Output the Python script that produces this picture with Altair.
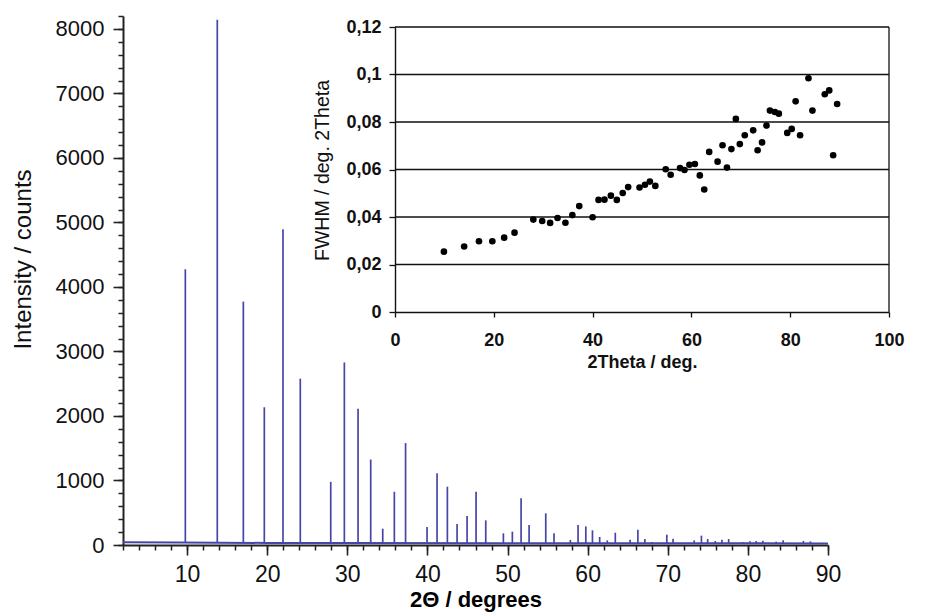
import altair as alt
import pandas as pd

# ---------------- data ----------------
# main diffraction pattern: peak positions (2Theta, deg) and peak intensities (counts)
peak_pos = [9.78, 13.77, 17.02, 19.64, 21.97, 24.13, 27.93, 29.63, 31.34, 32.92,
            34.42, 35.87, 37.27, 39.95, 41.2, 42.49, 43.7, 44.95, 46.07, 47.28,
            49.48, 50.6, 51.69, 52.69, 54.77, 55.8, 57.84, 58.8, 59.77, 60.6,
            61.5, 62.45, 63.45, 65.3, 66.27, 67.14, 68.05, 68.9, 69.88, 70.66,
            73.3, 74.2, 74.98, 75.93, 76.76, 77.6, 79.34, 80.25, 81.04, 81.87,
            83.53, 84.4, 86.93, 87.8, 88.8, 89.5]
peak_int = [4274, 8140, 3773, 2135, 4894, 2579, 979, 2830, 2113, 1325,
            253, 825, 1580, 279, 1111, 904, 326, 450, 827, 382,
            181, 207, 724, 310, 491, 181, 78, 310, 289, 228,
            124, 72, 191, 83, 238, 93, 47, 36, 160, 98,
            72, 145, 93, 62, 83, 93, 47, 57, 62, 67,
            52, 72, 62, 57, 31, 31]
# background level of the pattern
bg_pos = [2, 9, 14, 20, 30, 50, 90]
bg_int = [42, 40, 36, 32, 30, 27, 25]

# inset: FWHM vs 2Theta
fwhm_pos = [9.9, 14.0, 17.0, 19.7, 22.1, 24.2, 28.0, 29.8, 31.4, 32.9,
            34.5, 35.9, 37.3, 40.0, 41.2, 42.4, 43.7, 44.9, 46.1, 47.2,
            49.5, 50.6, 51.6, 52.7, 54.8, 55.8, 57.7, 58.6, 59.6, 60.7,
            61.7, 62.6, 63.6, 65.3, 66.3, 67.2, 68.1, 69.0, 69.8, 70.8,
            72.5, 73.4, 74.3, 75.2, 75.9, 76.9, 77.7, 79.4, 80.3, 81.1,
            82.0, 83.7, 84.5, 87.0, 87.9, 88.7, 89.5]
fwhm_val = [0.0254, 0.0276, 0.0298, 0.0298, 0.0313, 0.0334, 0.0389, 0.0383, 0.0375, 0.0396,
            0.0376, 0.0408, 0.0446, 0.0399, 0.0472, 0.0473, 0.0490, 0.0472, 0.0501, 0.0526,
            0.0524, 0.0536, 0.0549, 0.0531, 0.0601, 0.0578, 0.0606, 0.0598, 0.0620, 0.0623,
            0.0575, 0.0516, 0.0674, 0.0633, 0.0702, 0.0608, 0.0686, 0.0813, 0.0707, 0.0744,
            0.0765, 0.0681, 0.0714, 0.0785, 0.0848, 0.0842, 0.0835, 0.0754, 0.0771, 0.0887,
            0.0744, 0.0984, 0.0848, 0.0917, 0.0933, 0.0660, 0.0876]

main_x_major = [10, 20, 30, 40, 50, 60, 70, 80, 90]
main_x_minor = list(range(2, 91, 2))
main_y_major = [0, 1000, 2000, 3000, 4000, 5000, 6000, 7000, 8000]
main_y_minor = list(range(0, 8201, 200))
inset_x_ticks = [0, 20, 40, 60, 80, 100]
inset_y_ticks = [0, 0.02, 0.04, 0.06, 0.08, 0.1, 0.12]

# ---------------- tables ----------------
peaks = pd.DataFrame({"pos": peak_pos, "int": peak_int, "base": [30] * len(peak_pos)})
bg = pd.DataFrame({"pos": bg_pos, "int": bg_int})
fwhm = pd.DataFrame({"pos": fwhm_pos, "fwhm": fwhm_val})
grid = pd.DataFrame({"fwhm": inset_y_ticks[1:], "pos": [0] * 6, "pos2": [100] * 6})
border = pd.DataFrame({"pos": [100], "fwhm": [0], "fwhm2": [0.12]})

FONT = "Liberation Sans"
W, H = 705, 529
BLUE = "#4646a8"

xs = alt.Scale(domain=[2, 90], nice=False, zero=False)
ys = alt.Scale(domain=[0, 8200], nice=False)

rules = alt.Chart(peaks).mark_rule(color=BLUE, strokeWidth=1.7).encode(
    x=alt.X("pos:Q", scale=xs, axis=alt.Axis(
        orient="bottom", values=main_x_major, format="d", tickSize=10, tickWidth=1.6,
        tickColor="#222", domainColor="#222", domainWidth=2, grid=False,
        labelFont=FONT, labelFontSize=23, labelColor="#111", labelPadding=8,
        labelFlush=False,
        title="2Θ / degrees", titleFont=FONT, titleFontSize=22, titleFontWeight="bold",
        titleColor="black", titleY=61, titleBaseline="alphabetic")),
    y=alt.Y("base:Q", scale=ys, axis=alt.Axis(
        orient="left", values=main_y_major, format="d", tickSize=10, tickWidth=1.6,
        tickColor="#222", domainColor="#222", domainWidth=2, grid=False,
        labelFont=FONT, labelFontSize=22, labelColor="#111", labelPadding=9,
        labelFlush=False,
        title="Intensity / counts", titleFont=FONT, titleFontSize=24,
        titleFontWeight="normal", titleColor="#111", titleX=-88, titleY=243)),
    y2="int:Q",
)

baseline = alt.Chart(bg).mark_line(color=BLUE, strokeWidth=2).encode(
    x=alt.X("pos:Q", scale=xs, axis=alt.Axis(
        orient="bottom", values=main_x_minor, tickSize=5, tickWidth=1.5,
        tickColor="#222", domain=False, labels=False, grid=False, title=None)),
    y=alt.Y("int:Q", scale=ys, axis=alt.Axis(
        orient="left", values=main_y_minor, tickSize=5, tickWidth=1.5,
        tickColor="#222", domain=False, labels=False, grid=False, title=None)),
)

main = alt.layer(rules, baseline).resolve_axis(x="independent", y="independent")

# ---------------- inset ----------------
ixs = alt.Scale(domain=[0, 100], range=[272, 766], nice=False, zero=False)
iys = alt.Scale(domain=[0, 0.12], range=[296, 11], nice=False, zero=False)

inset_x_axis = alt.Axis(
    orient="bottom", offset=-233, values=inset_x_ticks, tickSize=5, tickWidth=1.3,
    tickColor="#111", domainColor="#111", domainWidth=1.4, grid=False,
    labelFont=FONT, labelFontSize=18, labelFontWeight="bold", labelColor="#111",
    labelPadding=14, labelFlush=False,
    title="2Theta / deg.", titleFont=FONT, titleFontSize=18,
    titleFontWeight="bold", titleColor="#111", titlePadding=4)
inset_y_axis = alt.Axis(
    orient="left", offset=-272, values=inset_y_ticks, tickSize=6, tickWidth=1.3,
    tickColor="#111", domainColor="#111", domainWidth=1.4, grid=False,
    labelExpr="replace(format(datum.value, '.2~f'), '.', ',')",
    labelFont=FONT, labelFontSize=18, labelFontWeight="bold", labelColor="#111",
    labelPadding=8, labelFlush=False,
    title="FWHM / deg. 2Theta", titleFont=FONT, titleFontSize=19.5,
    titleFontWeight="normal", titleColor="#111", titleX=-63, titleY=154)

grid_rules = alt.Chart(grid).mark_rule(color="#111", strokeWidth=1.3).encode(
    x=alt.X("pos:Q", scale=ixs, axis=inset_x_axis),
    x2="pos2:Q",
    y=alt.Y("fwhm:Q", scale=iys, axis=inset_y_axis),
)
border_rule = alt.Chart(border).mark_rule(color="#111", strokeWidth=1.3).encode(
    x=alt.X("pos:Q", scale=ixs, axis=inset_x_axis),
    y=alt.Y("fwhm:Q", scale=iys, axis=inset_y_axis),
    y2="fwhm2:Q",
)
points = alt.Chart(fwhm).mark_circle(color="black", opacity=1, size=44).encode(
    x=alt.X("pos:Q", scale=ixs, axis=inset_x_axis),
    y=alt.Y("fwhm:Q", scale=iys, axis=inset_y_axis),
)

inset = alt.layer(grid_rules, border_rule, points)

chart = (
    alt.layer(main, inset)
    .resolve_scale(x="independent", y="independent")
    .resolve_axis(x="independent", y="independent")
    .properties(
        width=W, height=H,
        autosize=alt.AutoSizeParams(type="none"),
        padding={"left": 115, "top": 8, "right": 100, "bottom": 67},
        background="white",
    )
    .configure_view(strokeWidth=0)
)

chart.save("out.html", embed_options={"renderer": "svg", "actions": False})
